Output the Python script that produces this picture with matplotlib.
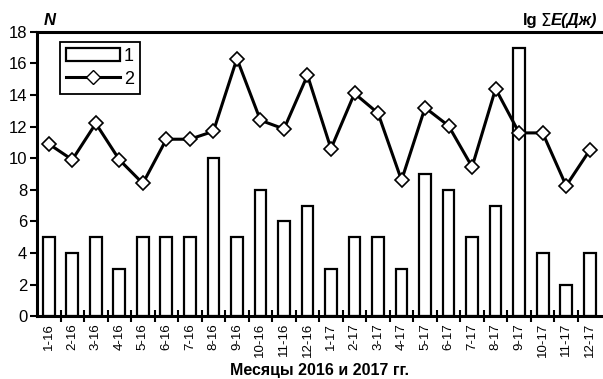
import matplotlib
matplotlib.use("Agg")
import matplotlib.pyplot as plt
import numpy as np
from matplotlib import font_manager
from matplotlib.patches import Patch
from matplotlib.lines import Line2D

months = ["1-16", "2-16", "3-16", "4-16", "5-16", "6-16", "7-16", "8-16",
          "9-16", "10-16", "11-16", "12-16", "1-17", "2-17", "3-17", "4-17",
          "5-17", "6-17", "7-17", "8-17", "9-17", "10-17", "11-17", "12-17"]
n_events = [5, 4, 5, 3, 5, 5, 5, 10, 5, 8, 6, 7,
            3, 5, 5, 3, 9, 8, 5, 7, 17, 4, 2, 4]
lg_energy = [10.9, 9.9, 12.2, 9.9, 8.4, 11.2, 11.2, 11.7, 16.3, 12.4, 11.85, 15.25,
             10.6, 14.1, 12.85, 8.6, 13.2, 12.05, 9.45, 14.4, 11.6, 11.6, 8.25, 10.5]
y_ticks = [0, 2, 4, 6, 8, 10, 12, 14, 16, 18]

names = {f.name for f in font_manager.fontManager.ttflist}
narrow = "Liberation Sans Narrow" if "Liberation Sans Narrow" in names else "Liberation Sans"
plt.rcParams['font.family'] = [narrow, 'DejaVu Sans']

fig = plt.figure(figsize=(6.03, 3.79), dpi=100)
ax = fig.add_axes([0.0614, 0.166, 0.936, 0.750])

x = np.arange(len(months))
ax.bar(x, n_events, width=0.5, facecolor='white', edgecolor='black', linewidth=1.6, zorder=2)
ax.plot(x, lg_energy, color='black', lw=2.2, marker='D', markersize=7,
        markerfacecolor='white', markeredgecolor='black', markeredgewidth=1.2, zorder=3)

ax.set_xlim(-0.5, len(months) - 0.5)
ax.set_ylim(0, 18)
ax.set_yticks(y_ticks)
ax.set_yticklabels([str(v) for v in y_ticks], fontsize=12)
ax.set_xticks(x)
ax.set_xticklabels(months, rotation=90, fontsize=9.5)
ax.tick_params(axis='x', which='major', length=0, pad=5)
ax.set_xticks(x[:-1] + 0.5, minor=True)
ax.tick_params(axis='x', which='minor', direction='inout', length=9, width=1.5)
ax.tick_params(axis='y', direction='out', length=5, width=1.5, pad=2)

for s in ['left', 'bottom', 'top']:
    ax.spines[s].set_linewidth(2.2)
ax.spines['right'].set_visible(False)

ax.set_xlabel("Месяцы 2016 и 2017 гг.", fontsize=11.5, fontweight='bold',
              family='Liberation Sans', va='center')
ax.xaxis.set_label_coords(0.5, -0.19)

fig.text(0.072, 0.945, "N", fontsize=12, fontweight='bold', style='italic',
         family='Liberation Sans', ha='left', va='center')

# right-hand axis caption built from pieces
fig.canvas.draw()
r = fig.canvas.get_renderer()
t3 = fig.text(0.99, 0.945, "E(Дж)", fontsize=12, fontweight='bold', style='italic',
              family='Liberation Sans', ha='right', va='center')
w3 = t3.get_window_extent(r)
t2 = fig.text(w3.x0 / fig.bbox.width, 0.945, "Σ", fontsize=12,
              family='DejaVu Sans', ha='right', va='center')
w2 = t2.get_window_extent(r)
fig.text(w2.x0 / fig.bbox.width - 0.005, 0.945, "lg", fontsize=12, fontweight='bold',
         family='Liberation Sans', ha='right', va='center')

handles = [Patch(facecolor='white', edgecolor='black', linewidth=1.6),
           Line2D([], [], color='black', lw=2.2, marker='D', markersize=7,
                  markerfacecolor='white', markeredgecolor='black')]
leg = ax.legend(handles, ["1", "2"], loc='upper left', bbox_to_anchor=(0.040, 0.965),
                fontsize=13, fancybox=False, edgecolor='black', framealpha=1,
                handlelength=3.0, handletextpad=0.2, labelspacing=0.3,
                borderpad=0.35, borderaxespad=0)
leg.get_frame().set_linewidth(1.3)

fig.savefig("out.png", dpi=100)
